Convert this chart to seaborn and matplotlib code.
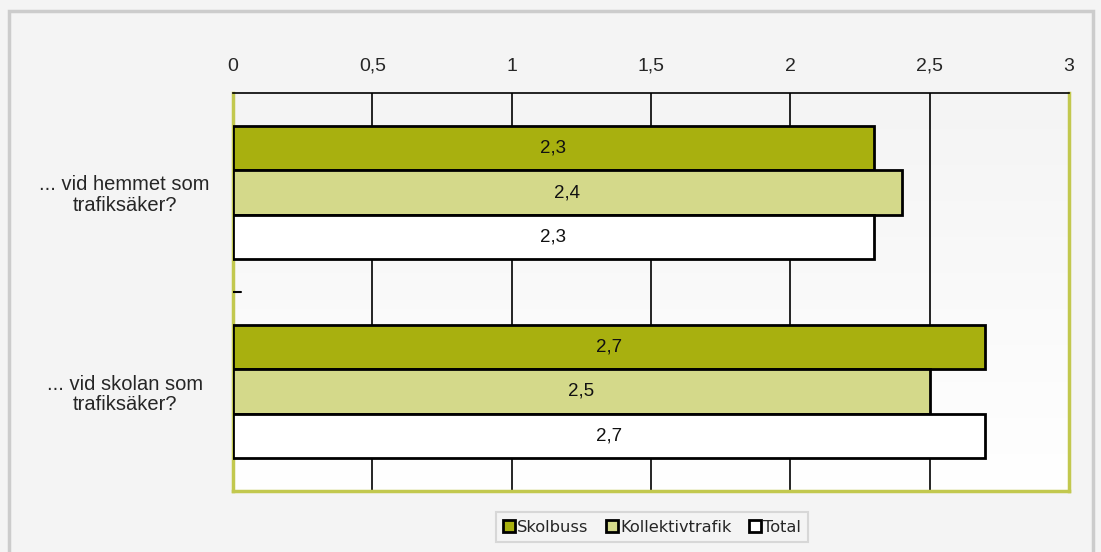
import numpy as np
import pandas as pd
import seaborn as sns
import matplotlib.pyplot as plt
from matplotlib.patches import Rectangle

# Data
questions = ['... vid hemmet som\ntrafiksäker?', '... vid skolan som\ntrafiksäker?']
groups = ['Skolbuss', 'Kollektivtrafik', 'Total']
skolbuss = [2.3, 2.7]
kollektivtrafik = [2.4, 2.5]
total = [2.3, 2.7]
xticks = [0, 0.5, 1, 1.5, 2, 2.5, 3]
xtick_labels = ['0', '0,5', '1', '1,5', '2', '2,5', '3']

colors = ['#a8b00f', '#d4d98a', '#ffffff']
olive = '#c2c84e'

df = pd.DataFrame({
    'question': questions * 3,
    'group': [g for g in groups for _ in questions],
    'value': skolbuss + kollektivtrafik + total,
})

sns.set_style('white')
plt.rcParams['font.family'] = ['Liberation Sans', 'DejaVu Sans']

fig = plt.figure(figsize=(11.01, 5.52), dpi=100, facecolor='#f4f4f4')
ax = fig.add_axes([233 / 1101, 1 - 491 / 552, (1069 - 233) / 1101, (491 - 93) / 552])

sns.barplot(data=df, x='value', y='question', hue='group', orient='h',
            palette=colors, width=2 / 3, edgecolor='black', linewidth=2,
            saturation=1, legend=True, ax=ax, zorder=3)

# gradient background in plot area
grad = np.linspace(0.957, 1.0, 256).reshape(-1, 1)
ax.imshow(np.dstack([grad, grad, grad]), extent=[0, 1, 0, 1], transform=ax.transAxes,
          aspect='auto', origin='upper', zorder=0)
ax.set_xlim(0, 3)
ax.set_ylim(1.5, -0.5)

for c in ax.containers:
    ax.bar_label(c, labels=[f'{v:.1f}'.replace('.', ',') for v in c.datavalues],
                 label_type='center', fontsize=13.5, color='#111111', zorder=5)

ax.xaxis.tick_top()
ax.set_xticks(xticks)
ax.set_xticklabels(xtick_labels, fontsize=14)
ax.tick_params(axis='x', length=0, pad=13)
ax.set_yticks([0, 1])
ax.set_yticklabels(questions, fontsize=14.5, ha='center', linespacing=1.1)
ax.tick_params(axis='y', length=0, pad=78)
ax.set_xlabel('')
ax.set_ylabel('')
ax.grid(axis='x', color='black', linewidth=1.2, zorder=1)
ax.set_axisbelow(True)

# small inward tick between categories
ax.plot([0, 0.03], [0.5, 0.5], color='black', linewidth=1.5, zorder=4)

for side in ['left', 'bottom', 'right']:
    ax.spines[side].set_color(olive)
    ax.spines[side].set_linewidth(2.5)
ax.spines['top'].set_color('black')
ax.spines['top'].set_linewidth(1.2)

# legend
handles, labels = ax.get_legend_handles_labels()
ax.legend_.remove()
leg = fig.legend(handles, labels, loc='center', bbox_to_anchor=(652 / 1101, 1 - 527 / 552),
                 ncol=3, frameon=True, fancybox=False, edgecolor='#d0d0d0', facecolor='#f4f4f4',
                 handlelength=0.75, handleheight=0.75, handletextpad=0.1, columnspacing=1.1,
                 borderpad=0.45, borderaxespad=0, prop={'family': 'DejaVu Sans', 'size': 11.7})
leg.get_frame().set_linewidth(1.5)

# outer frame
fig.patches.append(Rectangle((9 / 1101, -0.1), (1093 - 9) / 1101, 1.1 - 11 / 552,
                             transform=fig.transFigure, fill=False, edgecolor='#cccccc',
                             linewidth=2.5, zorder=0))

fig.savefig('out.png', dpi=100, facecolor=fig.get_facecolor())
